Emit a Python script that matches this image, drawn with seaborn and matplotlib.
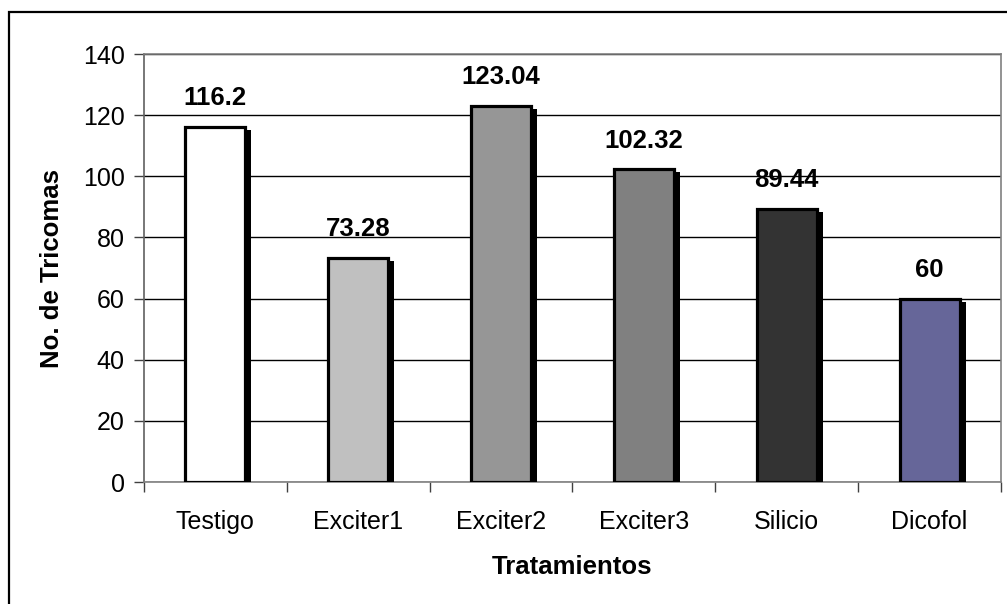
import matplotlib
matplotlib.use("Agg")
import matplotlib.pyplot as plt
import matplotlib.patheffects as pe
from matplotlib.patches import Rectangle
import numpy as np
import pandas as pd
import seaborn as sns

tratamientos = ["Testigo", "Exciter1", "Exciter2", "Exciter3", "Silicio", "Dicofol"]
tricomas = [116.2, 73.28, 123.04, 102.32, 89.44, 60]
etiquetas = ["116.2", "73.28", "123.04", "102.32", "89.44", "60"]
colores = ["#FFFFFF", "#C0C0C0", "#969696", "#808080", "#333333", "#666699"]

sns.set_theme(style="white")
plt.rcParams["font.family"] = ["Liberation Sans", "DejaVu Sans"]
plt.rcParams.update({"text.color": "black", "axes.labelcolor": "black",
                     "xtick.labelcolor": "black", "ytick.labelcolor": "black"})

df = pd.DataFrame({"Tratamiento": tratamientos, "Tricomas": tricomas})

W, H = 1007, 604
fig = plt.figure(figsize=(W / 100, H / 100), dpi=100)
ax = fig.add_axes([144 / W, 1 - 482 / H, (1001 - 144) / W, (482 - 54) / H])

sns.barplot(data=df, x="Tratamiento", y="Tricomas", hue="Tratamiento",
            palette=colores, width=0.42, edgecolor="black", linewidth=2.3,
            saturation=1, legend=False, ax=ax, zorder=3)

# drop shadow to the lower right of every bar
for bar in ax.patches:
    bar.set_path_effects([
        pe.SimplePatchShadow(offset=(4.3, -2.2), shadow_rgbFace="black", alpha=1.0),
        pe.Normal(),
    ])

for i, (v, t) in enumerate(zip(tricomas, etiquetas)):
    ax.annotate(t, (i, v), xytext=(0, 12), textcoords="offset points",
                ha="center", va="bottom", fontsize=18.5, fontweight="bold",
                color="black", zorder=5)

ax.set_ylim(0, 140)
ax.set_xlim(-0.5, len(tratamientos) - 0.5)
ax.set_yticks(np.arange(0, 141, 20))
ax.yaxis.grid(True, color="black", linewidth=1.0, zorder=0)
ax.xaxis.grid(False)
ax.set_axisbelow(True)

for side in ["top", "right", "bottom"]:
    ax.spines[side].set_color("#808080")
    ax.spines[side].set_linewidth(1.2)
ax.spines["left"].set_color("#606060")
ax.spines["left"].set_linewidth(1.2)

ax.tick_params(axis="y", which="major", direction="out", length=7, width=1,
               color="#404040", labelcolor="black", labelsize=18, pad=7, left=True)
ax.tick_params(axis="x", which="major", length=0, labelsize=18, pad=20,
               labelcolor="black")
ax.set_xticks(np.arange(-0.5, len(tratamientos)), minor=True)
ax.tick_params(axis="x", which="minor", direction="out", length=7, width=1,
               color="#404040", bottom=True)

ax.set_xlabel("Tratamientos", fontsize=18.5, fontweight="bold", va="center",
              color="black")
ax.set_ylabel("No. de Tricomas", fontsize=18.5, fontweight="bold", va="center",
              color="black")
ax.xaxis.set_label_coords(0.5, (482 - 567) / (482 - 54))
ax.yaxis.set_label_coords((52 - 144) / (1001 - 144), (482 - 268) / (482 - 54))

frame = Rectangle((9 / W, -0.05), 1.05, (H - 12) / H + 0.05,
                  transform=fig.transFigure, fill=False,
                  edgecolor="black", linewidth=1.6, zorder=10)
fig.patches.append(frame)

fig.savefig("out.png", dpi=100)
